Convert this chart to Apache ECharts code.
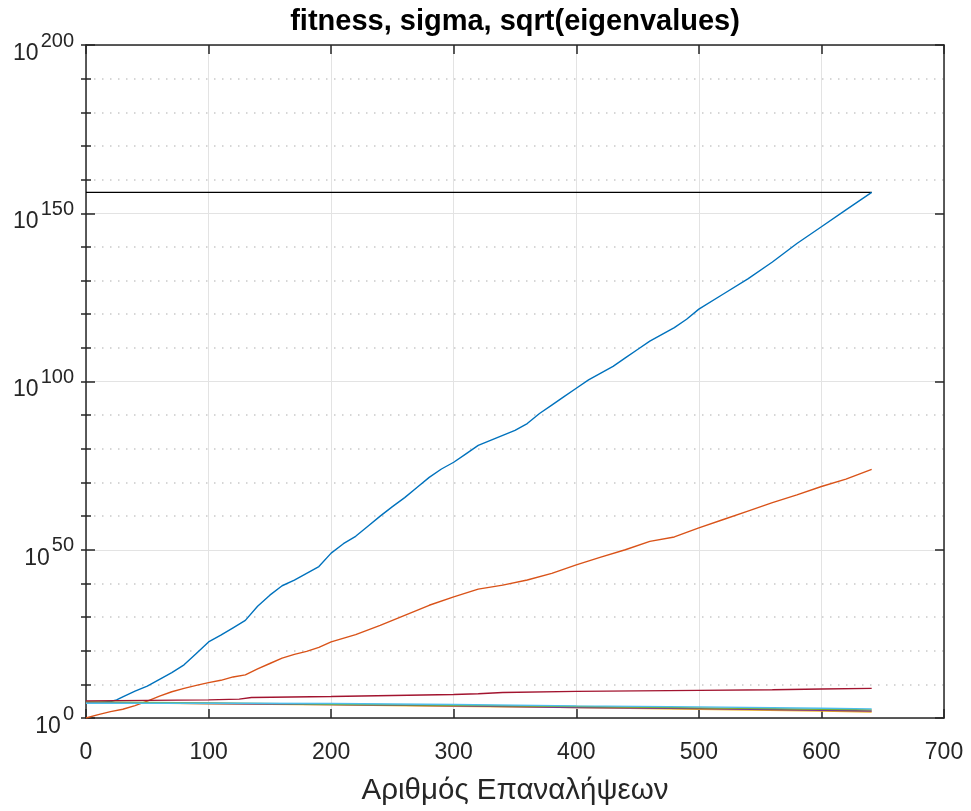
<!DOCTYPE html>
<html>
<head>
<meta charset="utf-8">
<title>fitness, sigma, sqrt(eigenvalues)</title>
<script src="https://cdn.jsdelivr.net/npm/echarts@6/dist/echarts.min.js"></script>
<style>
  html, body { margin: 0; padding: 0; background: #ffffff; }
  #chart { width: 971px; height: 811px; }
</style>
</head>
<body>
<div id="chart"></div>
<script>
// Iteration counts and log10 readings of each curve.
const fitnessIter = [0, 10, 20, 25, 30, 40, 50, 60, 70, 80, 90, 100, 110, 120, 130, 140, 150, 160, 170, 180, 190, 200,
  210, 220, 230, 240, 250, 260, 270, 280, 290, 300, 310, 320, 330, 340, 350, 360, 370, 380, 390, 400,
  410, 420, 430, 440, 450, 460, 470, 480, 490, 500, 520, 540, 560, 580, 600, 620, 641];
const fitnessLog = [4.6, 4.6, 4.9, 5.4, 6.3, 8.0, 9.5, 11.5, 13.5, 15.8, 19.2, 22.6, 24.6, 26.8, 29.0, 33.2, 36.5, 39.3, 41.0, 43.0, 45.0, 49.0,
  51.8, 54.0, 57.0, 60.0, 62.8, 65.5, 68.5, 71.5, 74.0, 76.0, 78.5, 81.0, 82.5, 84.0, 85.5, 87.5, 90.5, 93.0, 95.5, 98.0,
  100.5, 102.5, 104.5, 107.0, 109.5, 112.0, 114.0, 116.0, 118.5, 121.5, 126.0, 130.5, 135.5, 141.0, 146.0, 151.0, 156.2];

const sigmaIter = [0, 10, 20, 30, 40, 50, 60, 70, 80, 90, 100, 110, 120, 130, 140, 150, 160, 170, 180, 190, 200,
  220, 240, 260, 280, 300, 320, 340, 360, 380, 400, 420, 440, 460, 480, 500, 520, 540, 560, 580, 600, 620, 641];
const sigmaLog = [0, 1.0, 1.9, 2.6, 3.7, 5.0, 6.5, 7.8, 8.8, 9.7, 10.5, 11.2, 12.2, 12.8, 14.6, 16.2, 17.8, 18.9, 19.8, 21.0, 22.6,
  24.8, 27.5, 30.5, 33.5, 36.0, 38.3, 39.5, 41.0, 43.0, 45.5, 47.8, 50.0, 52.5, 53.8, 56.5, 59.0, 61.5, 64.0, 66.3, 68.8, 71.0, 73.9];

const eigIter = [0, 100, 200, 300, 400, 500, 600, 641];
const eigYellowLog = [4.7, 4.2, 3.9, 3.5, 3.1, 2.6, 2.1, 1.8];
const eigPurpleLog = [4.6, 4.3, 4.0, 3.6, 3.1, 2.8, 2.3, 2.1];
const eigGreenLog  = [4.8, 4.5, 4.1, 3.8, 3.4, 3.0, 2.6, 2.4];
const eigCyanLog   = [4.4, 4.4, 4.3, 4.0, 3.6, 3.3, 2.9, 2.7];

const eigRedIter = [0, 100, 125, 135, 200, 300, 320, 340, 400, 500, 560, 600, 641];
const eigRedLog  = [5.1, 5.4, 5.6, 6.1, 6.4, 7.0, 7.2, 7.6, 7.9, 8.2, 8.4, 8.6, 8.8];

const bestIter = [0, 641];
const bestLog = [156.2, 156.2];

const xTicks = [0, 100, 200, 300, 400, 500, 600, 700];
const yMajorExp = [0, 50, 100, 150, 200];

const FONT = '"Liberation Sans", Arial, Helvetica, sans-serif';
const AXIS_COLOR = '#262626';

function pairs(iters, logs) {
  return iters.map((x, i) => [x, Math.pow(10, logs[i])]);
}

const seriesDefs = [
  { name: 'best', iters: bestIter, logs: bestLog, color: '#000000' },
  { name: 'fitness', iters: fitnessIter, logs: fitnessLog, color: '#0072BD' },
  { name: 'sigma', iters: sigmaIter, logs: sigmaLog, color: '#D95319' },
  { name: 'eig1', iters: eigIter, logs: eigYellowLog, color: '#EDB120' },
  { name: 'eig2', iters: eigIter, logs: eigPurpleLog, color: '#7E2F8E' },
  { name: 'eig3', iters: eigIter, logs: eigGreenLog, color: '#77AC30' },
  { name: 'eig4', iters: eigIter, logs: eigCyanLog, color: '#4DBEEE' },
  { name: 'eig5', iters: eigRedIter, logs: eigRedLog, color: '#A2142F' }
];

const chart = echarts.init(document.getElementById('chart'), null, { renderer: 'canvas' });

const yMin = Math.pow(10, yMajorExp[0]);
const yMax = Math.pow(10, yMajorExp[yMajorExp.length - 1]);

const option = {
  animation: false,
  backgroundColor: '#ffffff',
  title: {
    text: 'fitness, sigma, sqrt(eigenvalues)',
    left: 515,
    top: 7,
    padding: 0,
    textAlign: 'center',
    textStyle: { fontFamily: FONT, fontSize: 29, fontWeight: 'bold', color: '#000000' }
  },
  grid: { left: 86, top: 45, right: 27, bottom: 89, containLabel: false },
  xAxis: [
    {
      type: 'value', position: 'bottom', min: xTicks[0], max: xTicks[xTicks.length - 1], interval: 100,
      name: 'Αριθμός Επαναλήψεων', nameLocation: 'middle', nameGap: 58,
      nameTextStyle: { fontFamily: FONT, fontSize: 29.5, color: AXIS_COLOR },
      axisLine: { show: true, onZero: false, lineStyle: { color: AXIS_COLOR, width: 1.5 } },
      axisTick: { show: true, inside: true, length: 9, lineStyle: { color: AXIS_COLOR, width: 1.5 } },
      axisLabel: { fontFamily: FONT, fontSize: 23, color: AXIS_COLOR, margin: 23, lineHeight: 24 },
      splitLine: { show: true, lineStyle: { color: '#e3e3e3', width: 1 } }
    },
    {
      type: 'value', position: 'top', min: xTicks[0], max: xTicks[xTicks.length - 1], interval: 100,
      axisLine: { show: true, onZero: false, lineStyle: { color: AXIS_COLOR, width: 1.5 } },
      axisTick: { show: true, inside: true, length: 9, lineStyle: { color: AXIS_COLOR, width: 1.5 } },
      axisLabel: { show: false },
      splitLine: { show: false }
    }
  ],
  yAxis: [
    {
      type: 'log', logBase: 1e50, position: 'left', min: yMin, max: yMax,
      axisLine: { show: true, onZero: false, lineStyle: { color: AXIS_COLOR, width: 1.5 } },
      axisTick: { show: true, inside: true, length: 9, lineStyle: { color: AXIS_COLOR, width: 1.5 } },
      axisLabel: {
        margin: 12,
        padding: [6, 0, 0, 0],
        formatter: function (v) {
          const e = Math.round(Math.log10(v));
          return '{b|10}{s|' + e + '}';
        },
        rich: {
          b: { fontFamily: FONT, fontSize: 23, color: AXIS_COLOR, lineHeight: 34, verticalAlign: 'bottom' },
          s: { fontFamily: FONT, fontSize: 20, color: AXIS_COLOR, lineHeight: 20, verticalAlign: 'top', padding: [0, 0, 0, 2] }
        }
      },
      splitLine: { show: true, lineStyle: { color: '#e3e3e3', width: 1 } }
    },
    {
      type: 'log', logBase: 1e50, position: 'right', min: yMin, max: yMax,
      axisLine: { show: true, onZero: false, lineStyle: { color: AXIS_COLOR, width: 1.5 } },
      axisTick: { show: true, inside: true, length: 9, lineStyle: { color: AXIS_COLOR, width: 1.5 } },
      axisLabel: { show: false },
      splitLine: { show: false }
    },
    {
      type: 'log', logBase: 1e10, position: 'left', min: yMin, max: yMax, interval: 1, splitNumber: 20,
      axisLine: { show: false },
      axisTick: { show: true, inside: true, length: 5, lineStyle: { color: AXIS_COLOR, width: 1.5 } },
      axisLabel: { show: false },
      splitLine: {
        show: true,
        lineStyle: {
          color: ['rgba(0,0,0,0)', '#c9c9c9', '#c9c9c9', '#c9c9c9', '#c9c9c9'],
          width: 1.5,
          type: [1.5, 6.5]
        }
      }
    },
    {
      type: 'log', logBase: 1e10, position: 'right', min: yMin, max: yMax, interval: 1, splitNumber: 20,
      axisLine: { show: false },
      axisTick: { show: true, inside: true, length: 5, lineStyle: { color: AXIS_COLOR, width: 1.5 } },
      axisLabel: { show: false },
      splitLine: { show: false }
    }
  ],
  series: seriesDefs.map(d => ({
    name: d.name,
    type: 'line',
    xAxisIndex: 0,
    yAxisIndex: 0,
    data: pairs(d.iters, d.logs),
    showSymbol: false,
    symbol: 'none',
    lineStyle: { color: d.color, width: 1.4 },
    itemStyle: { color: d.color },
    emphasis: { disabled: true },
    silent: true,
    z: 3
  }))
};

chart.setOption(option);
</script>
</body>
</html>
